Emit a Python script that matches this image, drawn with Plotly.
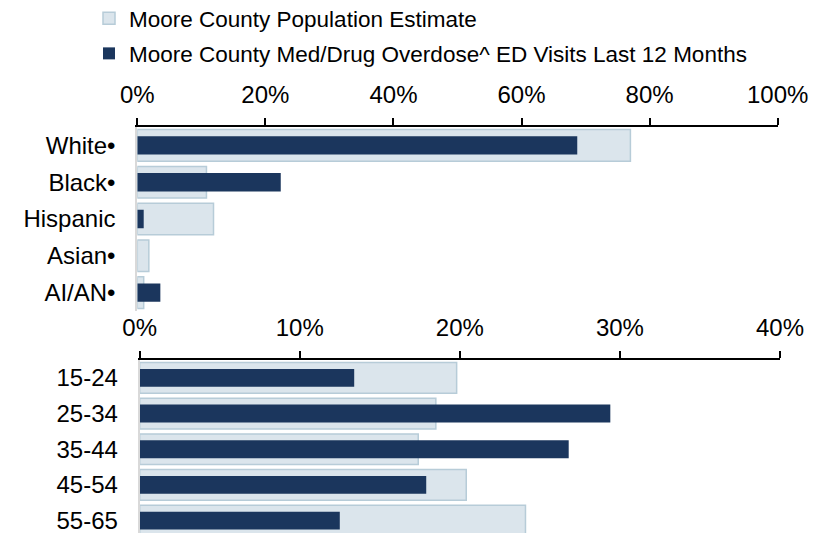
import plotly.graph_objects as go

# Data (percent)
race_labels = ["White•", "Black•", "Hispanic", "Asian•", "AI/AN•"]
race_pop = [77.0, 10.8, 11.9, 1.8, 1.0]
race_od = [68.7, 22.4, 1.0, 0.0, 3.6]

age_labels = ["15-24", "25-34", "35-44", "45-54", "55-65"]
age_pop = [19.8, 18.5, 17.4, 20.4, 24.1]
age_od = [13.4, 29.4, 26.8, 17.9, 12.5]

pop_name = "Moore County Population Estimate"
od_name = "Moore County Med/Drug Overdose^ ED Visits Last 12 Months"

POP_FILL = "#dbe5ec"
POP_LINE = "#b7ccd8"
OD_FILL = "#1b365d"
FONT = "Liberation Sans, Arial, sans-serif"

# page has an 8px body margin, so the figure is drawn 8px smaller and
# positions below are given in page pixels
PAD = 8
W, H = 827 - PAD, 533 - PAD


def fx(px):
    return (px - PAD) / W


def fy(py):
    return (H - (py - PAD)) / H


fig = go.Figure()

# top panel: race
fig.add_trace(go.Bar(y=race_labels, x=race_pop, orientation="h", name=pop_name,
                     width=0.86, legendgroup="pop",
                     marker=dict(color=POP_FILL, line=dict(color=POP_LINE, width=1.5)),
                     xaxis="x", yaxis="y"))
fig.add_trace(go.Bar(y=race_labels, x=race_od, orientation="h", name=od_name,
                     width=0.5, legendgroup="od",
                     marker=dict(color=OD_FILL, line=dict(width=0)),
                     xaxis="x", yaxis="y"))

# bottom panel: age
fig.add_trace(go.Bar(y=age_labels, x=age_pop, orientation="h", name=pop_name,
                     width=0.86, legendgroup="pop", showlegend=False,
                     marker=dict(color=POP_FILL, line=dict(color=POP_LINE, width=1.5)),
                     xaxis="x2", yaxis="y2"))
fig.add_trace(go.Bar(y=age_labels, x=age_od, orientation="h", name=od_name,
                     width=0.5, legendgroup="od", showlegend=False,
                     marker=dict(color=OD_FILL, line=dict(width=0)),
                     xaxis="x2", yaxis="y2"))

xcommon = dict(side="top", showgrid=False, zeroline=False, showline=True,
               linecolor="black", linewidth=2, ticks="outside", ticklen=7,
               tickwidth=2, tickcolor="black", ticksuffix="%",
               ticklabelstandoff=5, automargin=False,
               tickfont=dict(size=24, color="black", family=FONT))
ycommon = dict(type="category", showgrid=False, zeroline=False, showline=True,
               linecolor="#d9d9d9", linewidth=2, ticks="", ticklabelstandoff=15,
               automargin=False,
               tickfont=dict(size=24, color="black", family=FONT))

fig.update_layout(
    width=W, height=H,
    margin=dict(l=0, r=0, t=0, b=0, autoexpand=False),
    paper_bgcolor="white", plot_bgcolor="white",
    barmode="overlay",
    font=dict(family=FONT, color="black"),
    xaxis=dict(xcommon, domain=[fx(137.3), fx(777.7)], range=[0, 100], dtick=20,
               anchor="y"),
    yaxis=dict(ycommon, domain=[fy(311), fy(127)],
               range=[4.5, -0.5], anchor="x"),
    xaxis2=dict(xcommon, domain=[fx(139.7), fx(780)], range=[0, 40], dtick=10,
                anchor="y2"),
    yaxis2=dict(ycommon, domain=[0, fy(360)],
                range=[4.346, -0.5], anchor="x2"),
    legend=dict(x=fx(89), xanchor="left", y=fy(-3), yanchor="top",
                orientation="v", traceorder="grouped", tracegroupgap=3,
                font=dict(size=22.5, color="black", family=FONT),
                bgcolor="rgba(0,0,0,0)"),
)

fig.write_html("out.html")
